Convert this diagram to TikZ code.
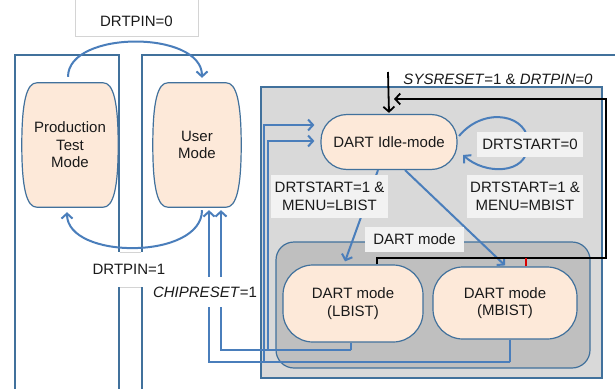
\documentclass[tikz,border=0pt]{standalone}
\usepackage{fontspec}
\setmainfont{Liberation Sans}
\usetikzlibrary{arrows.meta,backgrounds}
\definecolor{peach}{HTML}{FDE9D9}
\definecolor{edge}{HTML}{41719C}
\definecolor{flowc}{HTML}{4A7EBB}
\definecolor{panel}{HTML}{D9D9D9}
\definecolor{innerpanel}{HTML}{BFBFBF}
\definecolor{tag}{HTML}{F2F2F2}
\definecolor{tagline}{HTML}{D4D4D4}
\definecolor{ink}{HTML}{1A1A1A}

% barrel-shaped state outline drawn round the anchors of a text node
\newcommand\barrelshape[1]{%
  \path[frame, fill=peach]
    ([xshift=15pt]#1.north west) -- ([xshift=-15pt]#1.north east)
    .. controls ([xshift=-5pt]#1.north east) and ([yshift=44pt]#1.east) .. (#1.east)
    .. controls ([yshift=-44pt]#1.east) and ([xshift=-5pt]#1.south east) .. ([xshift=-15pt]#1.south east)
    -- ([xshift=15pt]#1.south west)
    .. controls ([xshift=5pt]#1.south west) and ([yshift=-44pt]#1.west) .. (#1.west)
    .. controls ([yshift=44pt]#1.west) and ([xshift=5pt]#1.north west) .. ([xshift=15pt]#1.north west)
    -- cycle;}

\begin{document}
\begin{tikzpicture}[x=1pt,y=-1pt,
  font=\fontsize{15}{17.5}\selectfont, text=ink,
  frame/.style={draw=edge, line width=1.2pt},
  flow/.style={draw=flowc, line width=2pt, -{Straight Barb[length=5pt,width=11pt]}},
  flowline/.style={draw=flowc, line width=2pt},
  blk/.style={draw=black, line width=1.8pt},
  blkarrow/.style={blk, -{Straight Barb[length=5pt,width=11pt]}},
  barrel/.style={align=center, inner sep=0pt, minimum height=124pt},
  stadium/.style={frame, fill=peach, align=center, inner sep=0pt},
  tagbox/.style={fill=tag, align=center, inner sep=3pt},
]
\useasboundingbox (0,0) rectangle (615,388);

% ---- frames ----
\draw[frame] (15,390) -- (15,55) -- (119,55) -- (119,390);
\draw[frame] (142,390) -- (142,55) -- (617,55);
\draw[frame, fill=panel] (261,87) rectangle (602,378);
\draw[frame, fill=innerpanel, rounded corners=18pt] (276,242) rectangle (590,368);

% ---- top-level modes ----
\node[barrel, minimum width=96pt] (ptm) at (70,145) {Production\\Test\\Mode};
\node[barrel, minimum width=88pt] (user) at (197,145) {User\\Mode};
\begin{pgfonlayer}{background}
  \fill[white] (0,0) rectangle (615,388);
  \barrelshape{ptm}
  \barrelshape{user}
\end{pgfonlayer}

% ---- DART modes ----
\node[stadium, minimum width=136pt, minimum height=55pt, rounded corners=26pt] (idle) at (389,142) {DART Idle-mode};
\node[stadium, minimum width=140pt, minimum height=77pt, rounded corners=30pt] (lbist) at (353,303.5) {DART mode\\(LBIST)};
\node[stadium, minimum width=144pt, minimum height=72pt, rounded corners=30pt] (mbist) at (505,303) {DART mode\\(MBIST)};

% ---- DRTPIN transitions ----
\draw[tagline, line width=0.7pt] (75,-3) rectangle (198,36);
\node (pin0) at (136.5,21) {DRTPIN=0};
\draw[flow] ([shift={(-2,-6)}]ptm.north) .. controls (68,30) and (202,30) .. ([shift={(5,-5)}]user.north);
\draw[flow] ([shift={(5,3)}]user.south) .. controls (202,260) and (67,260) .. ([shift={(-3,5)}]ptm.south);

% ---- returns from the DART modes ----
\coordinate (lbret) at (351,350);
\coordinate (mbret) at (510,362);
\draw[flowline] ([xshift=-2pt]lbist.south) -- (lbret);
\draw[flowline] ([xshift=5pt]mbist.south) -- (mbret);
\draw[flow] (lbret) -| ([shift={(24,3)}]user.south);
\draw[flow] (mbret) -| ([shift={(12,3)}]user.south);
\draw[flow] (lbret) -| (268,141) -- ([shift={(-6,-1)}]idle.west);
\draw[flow] (mbret) -| (264,125) -- ([shift={(-6,-17)}]idle.west);

% ---- transitions inside DART ----
\draw[flow] ([xshift=-11pt]idle.south) -- ([shift={(-8,-3)}]lbist.north);
\draw[flow] ([xshift=16pt]idle.south) -- ([shift={(0,-1)}]mbist.north);
\coordinate (loopa) at (459,136);
\coordinate (loopb) at (463,155);
\draw[flowline] (loopa) .. controls (485,105) and (530,115) .. (528,145);
\draw[flow] (528,145) .. controls (527,175) and (485,175) .. (loopb);

% ---- reset path ----
\coordinate (sysin) at (388,72);
\coordinate (merge) at (394,99);
\draw[blkarrow] (sysin) -- ([yshift=1pt]idle.north);
\draw[blkarrow] ([xshift=24pt]lbist.north) -- (377,258) -- (606,258) -- (606,99) -- (merge);
\draw[red!85!black, line width=1.6pt] ([xshift=21pt]mbist.north) -- (526,258);

% ---- labels ----
\node[tagbox, minimum width=106pt, minimum height=25pt] (t0) at (530,144.5) {DRTSTART=0};
\node[tagbox, minimum width=116pt, minimum height=43pt, inner sep=0pt] (tm) at (525,196.5) {DRTSTART=1 \&\\MENU=MBIST};
\node[tagbox, minimum width=117pt, minimum height=43pt, inner sep=0pt] (tl) at (329.5,196.5) {DRTSTART=1 \&\\MENU=LBIST};
\node[tagbox, minimum width=99pt, minimum height=25pt] (tdart) at (414.5,239.5) {DART mode};
\node[anchor=south, inner sep=1pt] (sys) at (498,86) {\textit{SYSRESET}=1 \& \textit{DRTPIN=0}};
\node[fill=white, minimum height=35pt, inner xsep=2pt] (pin1) at (129,269.5) {DRTPIN=1};
\draw[tagline, line width=0.7pt] (119.6,252) -- (141.4,252) (119.6,287) -- (141.4,287);
\node[fill=white, minimum height=30pt, inner xsep=1pt] (chip) at (205,292) {\textit{CHIPRESET}=1};
\end{tikzpicture}
\end{document}
